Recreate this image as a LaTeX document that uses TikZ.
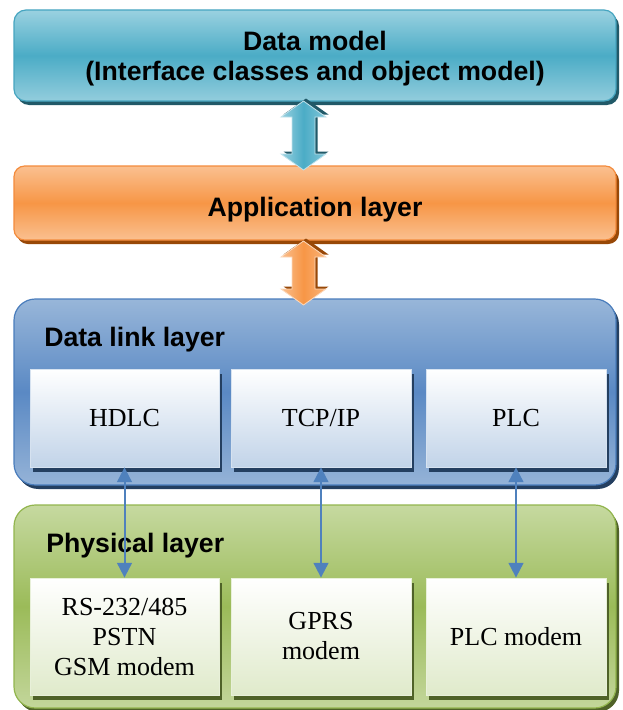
\documentclass[tikz,border=0pt]{standalone}
\usepackage{fontspec}
\setmainfont{Liberation Serif}
\setsansfont{Liberation Sans}
\usetikzlibrary{calc,shadows,arrows.meta}

\definecolor{dmtop}{HTML}{9AD1E0}
\definecolor{dmmid}{HTML}{4BACC6}
\definecolor{dmbot}{HTML}{93CDDD}
\definecolor{dmline}{HTML}{46A5C0}
\definecolor{dmshadow}{HTML}{215968}
\definecolor{apptop}{HTML}{FAC090}
\definecolor{appmid}{HTML}{F79646}
\definecolor{appbot}{HTML}{FAC090}
\definecolor{appline}{HTML}{F38B3C}
\definecolor{appshadow}{HTML}{984807}
\definecolor{dltop}{HTML}{98B6D9}
\definecolor{dlmid}{HTML}{5A89C4}
\definecolor{dlbot}{HTML}{95B3D7}
\definecolor{dlline}{HTML}{4A7DBC}
\definecolor{dlshadow}{HTML}{243F60}
\definecolor{phtop}{HTML}{C6D9A0}
\definecolor{phmid}{HTML}{9BBB59}
\definecolor{phbot}{HTML}{C3D69B}
\definecolor{phline}{HTML}{92B54E}
\definecolor{phshadow}{HTML}{4F6228}
\definecolor{linkblue}{HTML}{4F81BD}

\tikzset{
  layer/.style={rectangle, inner sep=0pt, minimum width=451.5pt, line width=0.9pt},
  layerlabel/.style={inner sep=0pt, align=center, font=\sffamily\bfseries\fontsize{20pt}{22.5pt}\selectfont},
  proto/.style={rectangle, inner sep=0pt, minimum height=#1, line width=0.6pt,
    align=center, font=\fontsize{19.5pt}{22.5pt}\selectfont},
  linkarrow/.style={<->, >={Triangle[length=11pt,width=11pt]},
    draw=linkblue, line width=1.5pt},
  pics/blockarrow/.style n args={4}{code={
    \fill[#4] (2.5,2.5) ++(0,-#1) -- ++(22.5,16) -- ++(-11,0) -- ++(0,{2*#1-32}) -- ++(11,0)
      -- ++(-22.5,16) -- ++(-22.5,-16) -- ++(11,0) -- ++(0,{32-2*#1}) -- ++(-11,0) -- cycle;
    \draw[draw=#2!60!white, line width=0.6pt, left color=#2, right color=#2!70!#3, middle color=#3]
      (0,-#1) -- ++(22.5,16) -- ++(-11,0) -- ++(0,{2*#1-32}) -- ++(11,0)
      -- ++(-22.5,16) -- ++(-22.5,-16) -- ++(11,0) -- ++(0,{32-2*#1}) -- ++(-11,0) -- cycle;
  }},
}

\begin{document}
\begin{tikzpicture}[x=0.75pt,y=0.75pt,yscale=-1,xscale=1]
\useasboundingbox (0,0) rectangle (622,710);
%Shape: Layers
\node[layer, rounded corners=9pt, minimum height=68.25pt, draw=dmline,
  top color=dmtop, bottom color=dmbot, middle color=dmmid,
  drop shadow={shadow xshift=2.25pt, shadow yshift=-3pt, fill=dmshadow, opacity=1}]
  (dm) at (315,55.5) {};
\node[layer, rounded corners=8pt, minimum height=55.5pt, draw=appline,
  top color=apptop, bottom color=appbot, middle color=appmid,
  drop shadow={shadow xshift=2.25pt, shadow yshift=-3pt, fill=appshadow, opacity=1}]
  (app) at (315,203) {};
\node[layer, rounded corners=16pt, minimum height=139.5pt, draw=dlline,
  top color=dltop, bottom color=dlbot, middle color=dlmid,
  drop shadow={shadow xshift=2.25pt, shadow yshift=-3pt, fill=dlshadow, opacity=1}]
  (dl) at (315,392) {};
\node[layer, rounded corners=16pt, minimum height=152.25pt, draw=phline,
  top color=phtop, bottom color=phbot, middle color=phmid,
  drop shadow={shadow xshift=2.25pt, shadow yshift=-3pt, fill=phshadow, opacity=1}]
  (ph) at (315,606.5) {};
% Text Node
\node[layerlabel] (dmtext) at (315,59) {Data model\\(Interface classes and object model)};
% Text Node
\node[layerlabel] (apptext) at (315,210) {Application layer};
% Text Node
\node[layerlabel, anchor=west] (dllabel) at (44,340) {Data link layer};
% Text Node
\node[layerlabel, anchor=west] (phlabel) at (46,546) {Physical layer};
%Shape: Data link boxes
\tikzset{dlbox/.style={proto=73.5pt, draw=white!60!dltop, top color=white, bottom color=dltop!60!white,
  drop shadow={shadow xshift=2.25pt, shadow yshift=-3.5pt, fill=dlshadow, opacity=1}}}
\node[dlbox, minimum width=141.75pt] (hdlc) at (124.5,418) {HDLC};
\node[dlbox, minimum width=135pt] (tcpip) at (321,418) {TCP/IP};
\node[dlbox, minimum width=135pt] (plc) at (516,418) {PLC};
%Shape: Physical boxes
\tikzset{phbox/.style={proto=87.75pt, draw=white!60!phtop, top color=white, bottom color=phtop!55!white,
  drop shadow={shadow xshift=2.25pt, shadow yshift=-3.5pt, fill=phshadow, opacity=1}}}
\node[phbox, minimum width=141.75pt] (serial) at (124.5,636.5) {RS-232/485\\PSTN\\GSM modem};
\node[phbox, minimum width=135pt] (gprs) at (321,636.5) {GPRS\\modem};
\node[phbox, minimum width=135pt] (plcmodem) at (516,636.5) {PLC modem};
%Shape: Block arrows
\coordinate (dmapp) at ($(dm.south)!0.5!(app.north)+(-11.5,2)$);
\coordinate (appdl) at ($(app.south)!0.5!(dl.north)+(-11.5,3.5)$);
\pic at (dmapp) {blockarrow={34.5}{dmtop}{dmmid}{dmshadow}};
\pic at (appdl) {blockarrow={32}{apptop}{appmid}{appshadow}};
% Links
\draw[linkarrow] (hdlc.south) -- (serial.north);
\draw[linkarrow] (tcpip.south) -- (gprs.north);
\draw[linkarrow] (plc.south) -- (plcmodem.north);
\end{tikzpicture}
\end{document}
